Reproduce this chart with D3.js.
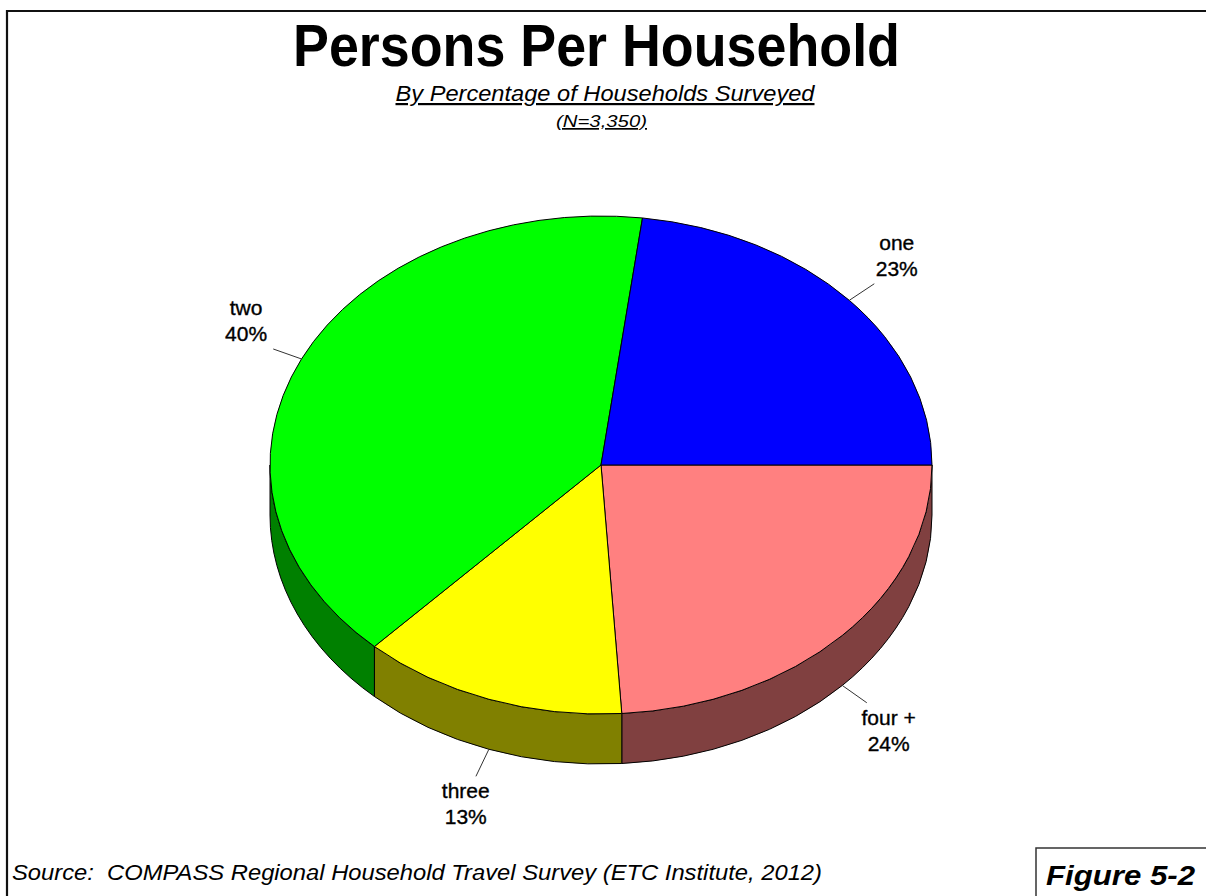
<!DOCTYPE html>
<html>
<head>
<meta charset="utf-8">
<script src="https://cdn.jsdelivr.net/npm/d3@7"></script>
<style>
  html, body { margin: 0; padding: 0; background: #fff; }
  svg { display: block; }
  text { font-family: "Liberation Sans", Arial, sans-serif; white-space: pre; }
</style>
</head>
<body>
<svg id="chart" width="1206" height="896"></svg>
<script>
// Household size shares, listed clockwise from the 3 o'clock position
const categories = ["four +", "three", "two", "one"];
const shares = [24, 13, 40, 23];
const topColors = ["#FF8080", "#FFFF00", "#00FF00", "#0000FF"];
const sideColors = ["#804040", "#808000", "#008000", "#000080"];

const titleText = "Persons Per Household";
const subtitleText = "By Percentage of Households Surveyed";
const sampleText = "(N=3,350)";
const sourceText = "Source:  COMPASS Regional Household Travel Survey (ETC Institute, 2012)";
const figureText = "Figure 5-2";

const W = 1206, H = 896;
const svg = d3.select("#chart");

// Frame lines (top and left edges)
svg.append("line").attr("x1", 6).attr("x2", W).attr("y1", 11).attr("y2", 11)
  .attr("stroke", "#111").attr("stroke-width", 2.2);
svg.append("line").attr("x1", 7).attr("x2", 7).attr("y1", 10).attr("y2", H)
  .attr("stroke", "#111").attr("stroke-width", 2.2);

// Titles
svg.append("text").attr("x", 596.5).attr("y", 66).attr("text-anchor", "middle")
  .attr("font-size", 60).attr("font-weight", "bold")
  .attr("textLength", 607).attr("lengthAdjust", "spacingAndGlyphs")
  .text(titleText);
svg.append("text").attr("x", 605).attr("y", 101).attr("text-anchor", "middle")
  .attr("font-size", 22).attr("font-style", "italic")
  .attr("text-decoration", "underline")
  .attr("textLength", 419).attr("lengthAdjust", "spacingAndGlyphs")
  .text(subtitleText);
svg.append("text").attr("x", 601.5).attr("y", 127).attr("text-anchor", "middle")
  .attr("font-size", 17).attr("font-style", "italic")
  .attr("text-decoration", "underline")
  .attr("textLength", 91).attr("lengthAdjust", "spacingAndGlyphs")
  .text(sampleText);

// Pie geometry
const cx = 601, cy = 465, rx = 331, ry = 249, depth = 50;
const pt = (a, dy = 0) => [cx + rx * Math.sin(a), cy - ry * Math.cos(a) + dy];

const pie = d3.pie().sort(null).value(d => d.value)
  .startAngle(Math.PI / 2).endAngle(Math.PI / 2 + 2 * Math.PI);
const data = categories.map((c, i) => ({ name: c, value: shares[i], top: topColors[i], side: sideColors[i] }));
const arcs = pie(data);

const g = svg.append("g");

// Side walls: only the front half of the disc (angles between PI/2 and 3PI/2) is visible
arcs.forEach(d => {
  const a0 = Math.max(d.startAngle, Math.PI / 2);
  const a1 = Math.min(d.endAngle, 3 * Math.PI / 2);
  if (a1 <= a0) return;
  const p0 = pt(a0), p1 = pt(a1), q1 = pt(a1, depth), q0 = pt(a0, depth);
  const large = (a1 - a0) > Math.PI ? 1 : 0;
  const path = `M${p0}A${rx},${ry} 0 ${large} 1 ${p1}L${q1}A${rx},${ry} 0 ${large} 0 ${q0}Z`;
  g.append("path").attr("d", path)
    .attr("fill", d.data.side).attr("stroke", "#000").attr("stroke-width", 1);
});

// Top faces
arcs.forEach(d => {
  const p0 = pt(d.startAngle), p1 = pt(d.endAngle);
  const large = (d.endAngle - d.startAngle) > Math.PI ? 1 : 0;
  const path = `M${cx},${cy}L${p0}A${rx},${ry} 0 ${large} 1 ${p1}Z`;
  g.append("path").attr("d", path)
    .attr("fill", d.data.top).attr("stroke", "#000").attr("stroke-width", 1)
    .attr("stroke-linejoin", "round");
});

// Leader lines run radially out of the rim; labels sit just beyond their ends
const leaderLen = 30;
arcs.forEach(d => {
  const m = (d.startAngle + d.endAngle) / 2;
  const s = Math.sin(m), c = Math.cos(m);
  const front = c < 0 ? depth : 0;   // lower slices attach to the bottom rim
  const start = pt(m, front);
  const vx = start[0] - cx, vy = start[1] - front - cy;
  const len = Math.hypot(vx, vy);
  const end = [start[0] + leaderLen * vx / len, start[1] + leaderLen * vy / len];
  g.append("line")
    .attr("x1", start[0]).attr("y1", start[1])
    .attr("x2", end[0]).attr("y2", end[1])
    .attr("stroke", "#333").attr("stroke-width", 1);
  const lx = end[0] + 30 * s, ly = end[1] + (c < 0 ? 28 : -28);
  const t = g.append("text").attr("text-anchor", "middle").attr("font-size", 21)
    .attr("fill", "#000").attr("stroke", "#000").attr("stroke-width", 0.35);
  t.append("tspan").attr("x", lx).attr("y", ly - 6).text(d.data.name);
  t.append("tspan").attr("x", lx).attr("y", ly + 20).text(d.data.value + "%");
});

// Footer
svg.append("text").attr("x", 12).attr("y", 880)
  .attr("font-size", 22).attr("font-style", "italic")
  .attr("textLength", 810).attr("lengthAdjust", "spacingAndGlyphs")
  .text(sourceText);
svg.append("rect").attr("x", 1036).attr("y", 848).attr("width", 180).attr("height", 60)
  .attr("fill", "none").attr("stroke", "#333").attr("stroke-width", 1.5);
svg.append("text").attr("x", 1046).attr("y", 885)
  .attr("font-size", 28).attr("font-style", "italic").attr("font-weight", "bold")
  .attr("textLength", 149).attr("lengthAdjust", "spacingAndGlyphs")
  .text(figureText);
</script>
</body>
</html>
